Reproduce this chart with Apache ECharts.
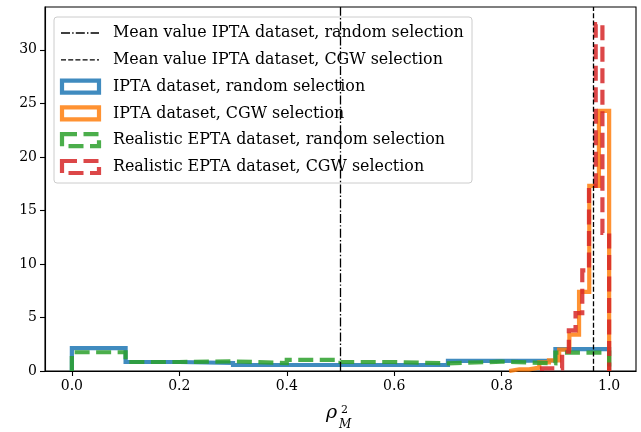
<!DOCTYPE html>
<html>
<head>
<meta charset="utf-8">
<script src="https://cdn.jsdelivr.net/npm/echarts@6/dist/echarts.min.js"></script>
<style>
  html, body { margin: 0; padding: 0; background: #fff; }
  #chart { width: 641px; height: 432px; }
</style>
</head>
<body>
<div id="chart"></div>
<script>
// histogram bin edges and heights (density)
const blueEdges = [0.0, 0.1, 0.2, 0.3, 0.4, 0.5, 0.6, 0.7, 0.8, 0.9, 1.0]
const blueHeights = [2.13, 0.84, 0.75, 0.56, 0.56, 0.56, 0.56, 0.95, 0.98, 2.05]

const orangeEdges = [0.814, 0.833, 0.851, 0.870, 0.888, 0.907, 0.926, 0.944, 0.963, 0.981, 1.0]
const orangeHeights = [0.16, 0.16, 0.31, 0.81, 1.0, 2.0, 3.4, 7.4, 17.3, 24.3]

const greenEdges = [0.0, 0.1, 0.2, 0.3, 0.4, 0.5, 0.6, 0.7, 0.8, 0.9, 1.0]
const greenHeights = [1.75, 0.84, 0.9, 0.74, 1.03, 0.84, 0.72, 0.87, 0.72, 1.72]

const redEdges = [0.875, 0.8875, 0.9, 0.9125, 0.925, 0.9375, 0.95, 0.9625, 0.975, 0.9875, 1.0]
const redHeights = [0.25, 0.25, 0.25, 1.8, 3.8, 5.4, 9.4, 17.3, 32.4, 12.9]

// mean values (vertical lines)
const meanRandom = 0.503
const meanCgw = 0.969

const xTicks = [0.0, 0.2, 0.4, 0.6, 0.8, 1.0]
const yTicks = [0, 5, 10, 15, 20, 25, 30]

const legendLabels = [
  'Mean value IPTA dataset, random selection',
  'Mean value IPTA dataset, CGW selection',
  'IPTA dataset, random selection',
  'IPTA dataset, CGW selection',
  'Realistic EPTA dataset, random selection',
  'Realistic EPTA dataset, CGW selection'
]

const BLUE = '#1f77b4'
const ORANGE = '#ff7f0e'
const GREEN = '#2ca02c'
const RED = '#d62728'
const SERIF = '"DejaVu Serif", "Liberation Serif", serif'

// turn edges + heights into a step outline (like histtype='step')
const stepPoints = (edges, heights) => {
  const pts = [[edges[0], 0]]
  heights.forEach((h, i) => {
    pts.push([edges[i], h])
    pts.push([edges[i + 1], h])
  })
  pts.push([edges[edges.length - 1], 0])
  return pts
}

const histSeries = (name, edges, heights, color, dashed) => ({
  name,
  type: 'line',
  data: stepPoints(edges, heights),
  showSymbol: false,
  silent: true,
  lineStyle: {
    color,
    width: 4.2,
    opacity: 0.85,
    type: dashed ? [15, 6.5] : 'solid',
    join: 'miter',
    cap: 'butt'
  }
})

const vline = (x, dash) => ({
  type: 'line',
  data: [],
  markLine: {
    silent: true,
    symbol: 'none',
    label: { show: false },
    lineStyle: { color: '#000', width: 1.3, type: dash },
    data: [{ xAxis: x }]
  }
})

// legend drawn by hand so the patch icons look like matplotlib's
const legendGraphic = () => {
  const items = []
  const left = 54, top = 17
  items.push({
    type: 'rect',
    shape: { x: left, y: top, width: 418, height: 166, r: 3 },
    style: { fill: 'rgba(255,255,255,0.8)', stroke: '#cccccc', lineWidth: 1 }
  })
  legendLabels.forEach((label, i) => {
    const cy = 33 + i * 26.8
    if (i < 2) {
      items.push({
        type: 'line',
        shape: { x1: 61, y1: cy, x2: 99, y2: cy },
        style: { stroke: '#000', lineWidth: 1.3, lineDash: i === 0 ? [9, 2.2, 1.4, 2.2] : [5, 2.2] }
      })
    } else {
      const color = [BLUE, ORANGE, GREEN, RED][i - 2]
      items.push({
        type: 'rect',
        shape: { x: 62, y: cy - 6, width: 37, height: 12 },
        style: {
          fill: 'none',
          stroke: color,
          lineWidth: 4.2,
          opacity: 0.85,
          lineDash: i >= 4 ? [15, 6.5] : null
        }
      })
    }
    items.push({
      type: 'text',
      x: 113,
      y: cy,
      style: {
        text: label,
        fontFamily: SERIF,
        fontSize: 15.9,
        fill: '#000',
        verticalAlign: 'middle'
      }
    })
  })
  return { type: 'group', z: 100, children: items }
}

// axis title rho^2_M
const axisTitle = {
  type: 'group',
  z: 100,
  children: [
    { type: 'text', x: 326, y: 423, style: { text: 'ρ', fontFamily: SERIF, fontStyle: 'italic', fontSize: 19, fill: '#000', verticalAlign: 'bottom' } },
    { type: 'text', x: 341, y: 416, style: { text: '2', fontFamily: SERIF, fontSize: 11, fill: '#000', verticalAlign: 'bottom' } },
    { type: 'text', x: 339, y: 431, style: { text: 'M', fontFamily: SERIF, fontStyle: 'italic', fontSize: 12, fill: '#000', verticalAlign: 'bottom' } }
  ]
}

const chart = echarts.init(document.getElementById('chart'))

chart.setOption({
  animation: false,
  backgroundColor: '#fff',
  grid: {
    left: 45,
    right: 5,
    top: 7,
    bottom: 61,
    show: true,
    borderColor: '#000',
    borderWidth: 1.1,
    backgroundColor: 'transparent'
  },
  xAxis: {
    type: 'value',
    min: -0.05,
    max: 1.05,
    splitLine: { show: false },
    axisLine: { onZero: false, lineStyle: { color: '#000', width: 1.1 } },
    axisTick: { show: true, length: 5, customValues: xTicks, lineStyle: { color: '#000', width: 1.1 } },
    axisLabel: {
      customValues: xTicks,
      formatter: v => v.toFixed(1),
      color: '#000',
      fontFamily: SERIF,
      fontSize: 14,
      margin: 8
    }
  },
  yAxis: {
    type: 'value',
    min: 0,
    max: 34,
    splitLine: { show: false },
    axisLine: { show: true, onZero: false, lineStyle: { color: '#000', width: 1.1 } },
    axisTick: { show: true, length: 5, customValues: yTicks, lineStyle: { color: '#000', width: 1.1 } },
    axisLabel: {
      customValues: yTicks,
      color: '#000',
      fontFamily: SERIF,
      fontSize: 14,
      margin: 8
    }
  },
  series: [
    histSeries(legendLabels[2], blueEdges, blueHeights, BLUE, false),
    histSeries(legendLabels[3], orangeEdges, orangeHeights, ORANGE, false),
    histSeries(legendLabels[4], greenEdges, greenHeights, GREEN, true),
    histSeries(legendLabels[5], redEdges, redHeights, RED, true),
    vline(meanRandom, [9, 2.2, 1.4, 2.2]),
    vline(meanCgw, [5, 2.2])
  ],
  graphic: [legendGraphic(), axisTitle]
})
</script>
</body>
</html>
